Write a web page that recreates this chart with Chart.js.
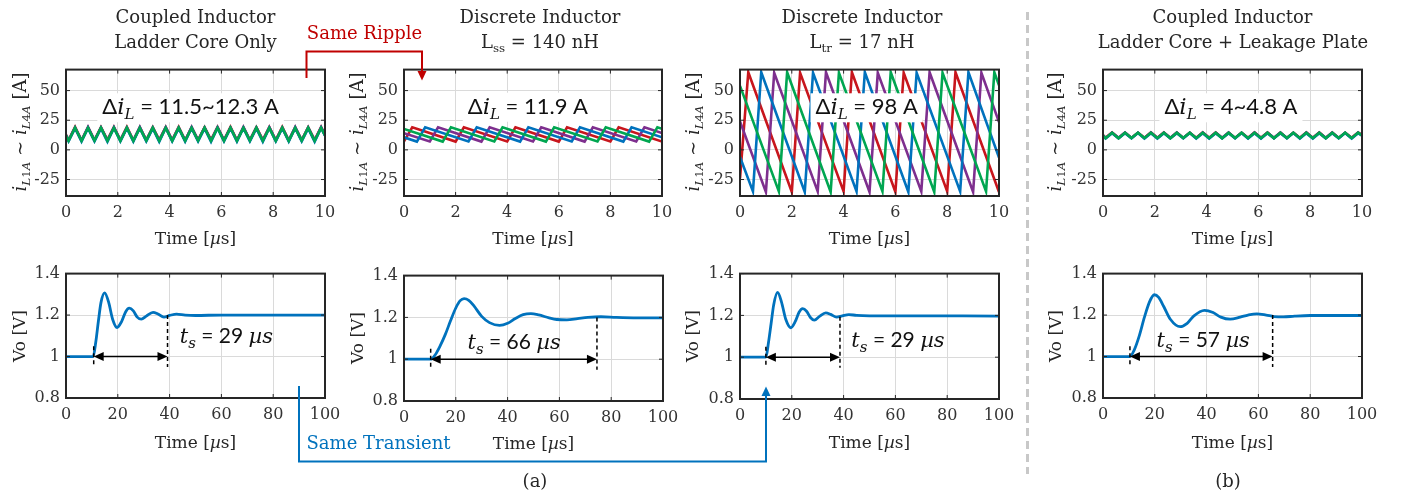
<!DOCTYPE html>
<html><head><meta charset="utf-8">
<script src="https://cdn.jsdelivr.net/npm/chart.js"></script>
<style>
html,body{margin:0;padding:0;background:#fff;width:1403px;height:499px;overflow:hidden;position:relative;font-family:"DejaVu Serif",serif;color:#262626}
canvas{position:absolute}
.t{position:absolute;white-space:nowrap;transform:translate(-50%,-50%);font-size:18px;line-height:1;z-index:5}
.yl{position:absolute;white-space:nowrap;transform:translate(-50%,-50%) rotate(-90deg);font-size:18px;line-height:1;z-index:5}
sub{font-size:0.66em;vertical-align:-0.3em;line-height:0}
svg{position:absolute;left:0;top:0;z-index:4}
</style></head><body>
<script>
// ---------- tick values ----------
const rippleXTicks = [0, 2, 4, 6, 8, 10];
const rippleYTicks = [-25, 0, 25, 50];
const transXTicks = [0, 20, 40, 60, 80, 100];
const transYTicks = [0.8, 1, 1.2, 1.4];

// ---------- Coupled inductor, ladder core only (phase currents, A) ----------
const tCoupled = [0,0.1,0.35,0.6,0.85,1.1,1.35,1.6,1.85,2.1,2.35,2.6,2.85,3.1,3.35,3.6,3.85,4.1,4.35,4.6,4.85,5.1,5.35,5.6,5.85,6.1,6.35,6.6,6.85,7.1,7.35,7.6,7.85,8.1,8.35,8.6,8.85,9.1,9.35,9.6,9.85,10];
const coupledRed    = [12.6, 8.3,19.4, 8.1,18.9, 8.2,19.0, 8.4,19.2, 8.3,19.4, 8.1,18.9, 8.2,19.0, 8.4,19.2, 8.3,19.4, 8.1,18.9, 8.2,19.0, 8.4,19.2, 8.3,19.4, 8.1,18.9, 8.2,19.0, 8.4,19.2, 8.3,19.4, 8.1,18.9, 8.2,19.0, 8.4,19.2, 12.9];
const coupledPurple = [12.4, 8.0,18.8, 7.9,19.3, 8.1,18.9, 7.8,19.1, 8.0,18.8, 7.9,19.3, 8.1,18.9, 7.8,19.1, 8.0,18.8, 7.9,19.3, 8.1,18.9, 7.8,19.1, 8.0,18.8, 7.9,19.3, 8.1,18.9, 7.8,19.1, 8.0,18.8, 7.9,19.3, 8.1,18.9, 7.8,19.1, 12.5];
const coupledBlue   = [11.9, 7.2,18.2, 7.0,18.4, 7.3,18.1, 6.9,18.5, 7.2,18.2, 7.0,18.4, 7.3,18.1, 6.9,18.5, 7.2,18.2, 7.0,18.4, 7.3,18.1, 6.9,18.5, 7.2,18.2, 7.0,18.4, 7.3,18.1, 6.9,18.5, 7.2,18.2, 7.0,18.4, 7.3,18.1, 6.9,18.5, 12.0];
const coupledGreen  = [12.2, 7.7,18.7, 7.6,18.6, 7.8,18.8, 7.6,18.6, 7.7,18.7, 7.6,18.6, 7.8,18.8, 7.6,18.6, 7.7,18.7, 7.6,18.6, 7.8,18.8, 7.6,18.6, 7.7,18.7, 7.6,18.6, 7.8,18.8, 7.6,18.6, 7.7,18.7, 7.6,18.6, 7.8,18.8, 7.6,18.6, 12.3];

// ---------- Coupled inductor, ladder core + leakage plate ----------
const leakRed    = [12.4, 10.2,14.7, 10.0,14.5, 10.1,14.6, 10.3,14.8, 10.2,14.7, 10.0,14.5, 10.1,14.6, 10.3,14.8, 10.2,14.7, 10.0,14.5, 10.1,14.6, 10.3,14.8, 10.2,14.7, 10.0,14.5, 10.1,14.6, 10.3,14.8, 10.2,14.7, 10.0,14.5, 10.1,14.6, 10.3,14.8, 12.5];
const leakPurple = [12.3, 10.0,14.5, 10.2,14.7, 10.1,14.4, 9.9,14.6, 10.0,14.5, 10.2,14.7, 10.1,14.4, 9.9,14.6, 10.0,14.5, 10.2,14.7, 10.1,14.4, 9.9,14.6, 10.0,14.5, 10.2,14.7, 10.1,14.4, 9.9,14.6, 10.0,14.5, 10.2,14.7, 10.1,14.4, 9.9,14.6, 12.3];
const leakBlue   = [11.9, 9.6,14.1, 9.7,14.0, 9.8,14.3, 9.6,14.1, 9.6,14.1, 9.7,14.0, 9.8,14.3, 9.6,14.1, 9.6,14.1, 9.7,14.0, 9.8,14.3, 9.6,14.1, 9.6,14.1, 9.7,14.0, 9.8,14.3, 9.6,14.1, 9.6,14.1, 9.7,14.0, 9.8,14.3, 9.6,14.1, 12.0];
const leakGreen  = [12.2, 9.9,14.4, 9.8,14.5, 10.0,14.4, 9.9,14.5, 9.9,14.4, 9.8,14.5, 10.0,14.4, 9.9,14.5, 9.9,14.4, 9.8,14.5, 10.0,14.4, 9.9,14.5, 9.9,14.4, 9.8,14.5, 10.0,14.4, 9.9,14.5, 9.9,14.4, 9.8,14.5, 10.0,14.4, 9.9,14.5, 12.2];

// ---------- Discrete inductor vertex times per phase (us) ----------
const tPhaseRed    = [0,0.32,2,2.32,4,4.32,6,6.32,8,8.32,10];
const tPhaseBlue   = [0,0.5,0.82,2.5,2.82,4.5,4.82,6.5,6.82,8.5,8.82,10];
const tPhasePurple = [0,1,1.32,3,3.32,5,5.32,7,7.32,9,9.32,10];
const tPhaseGreen  = [0,1.5,1.82,3.5,3.82,5.5,5.82,7.5,7.82,9.5,9.82,10];

// Lss = 140 nH
const ssRed    = [7.1,19.0,7.0,19.1,7.1,19.0,7.0,19.1,7.1,19.0,7.0];
const ssBlue   = [10.6,7.0,19.0,7.1,19.1,7.0,19.0,7.1,19.1,7.0,19.0,10.6];
const ssPurple = [14.1,7.1,19.1,7.0,19.0,7.1,19.1,7.0,19.0,7.1,19.1,14.2];
const ssGreen  = [17.7,7.0,19.0,7.1,19.1,7.0,19.0,7.1,19.1,7.0,19.0,17.7];

// Ltr = 17 nH
const trRed    = [-24,65.5,-35.5,65.0,-35.0,65.5,-35.5,65.0,-35.0,65.5,-35.5];
const trBlue   = [-6,-35.0,65.5,-35.5,65.0,-35.0,65.5,-35.5,65.0,-35.0,65.5,-6.5];
const trPurple = [24,-35.5,65.0,-35.0,65.5,-35.5,65.0,-35.0,65.5,-35.5,65.0,23.5];
const trGreen  = [54,-35.0,65.5,-35.5,65.0,-35.0,65.5,-35.5,65.0,-35.0,65.5,54.5];

// ---------- Output voltage transients (t in us, Vo in V) ----------
const tVoCoupled = [0,10.5,11.5,12.5,13.5,14.9,16.5,18,19.7,21.5,23,24.4,26,27.5,29.1,31,33.6,35.5,37.8,40,42.7,46,50,60,80,100];
const voCoupled  = [1.0,1.0,1.07,1.17,1.26,1.307,1.26,1.18,1.14,1.17,1.215,1.233,1.22,1.19,1.18,1.195,1.213,1.205,1.19,1.198,1.205,1.2,1.198,1.2,1.2,1.2];
const tVoSS = [0,10.3,12,14,16,18,20,21.7,23.2,25,27,30,33,36.9,40,43,46,49,52,56,59,62.9,67,71,76,82,90,100];
const voSS  = [1.0,1.0,1.02,1.065,1.12,1.185,1.245,1.28,1.29,1.282,1.255,1.205,1.175,1.162,1.172,1.195,1.213,1.218,1.212,1.198,1.19,1.188,1.194,1.2,1.203,1.2,1.198,1.198];
const tVoTR = [0,10,11,12,13,14.5,16,17.7,19.6,21.3,22.8,24.2,25.7,27.2,28.7,30.7,33.1,35,37.3,39.5,42,45,50,60,100];
const voTR  = [1.0,1.0,1.07,1.16,1.25,1.31,1.265,1.18,1.141,1.17,1.215,1.232,1.22,1.19,1.177,1.195,1.212,1.205,1.192,1.198,1.204,1.2,1.198,1.198,1.197];
const tVoLeak = [0,10.4,12,14,16,18,19.8,21.5,23.5,26,29.8,32.5,35,39.2,42.5,45.5,49.1,53,56,59.4,63,66,69.7,74,80,100];
const voLeak  = [1.0,1.0,1.03,1.1,1.19,1.265,1.298,1.285,1.24,1.18,1.144,1.16,1.195,1.223,1.212,1.19,1.18,1.19,1.2,1.206,1.2,1.193,1.191,1.195,1.198,1.198];

// settling-time markers [start, end] (us) and labels
const settleCoupled = [10.7, 39.2], settleSS = [10.3, 74.5], settleTR = [10.0, 38.6], settleLeak = [10.4, 65.5];
const settleLabels = ['29', '66', '29', '57'];
const rippleLabels = ['11.5~12.3 A', '11.9 A', '98 A', '4~4.8 A'];

// ---------- colours ----------
const RED = '#C8161D', PURPLE = '#7E2F8E', BLUE = '#0072BD', GREEN = '#00A651', VBLUE = '#0072BD';

function pts(t, v) { return t.map((tt, i) => ({x: tt, y: v[i]})); }
function phaseSets(r, p, b, g) {
  return [
    {data: g, borderColor: GREEN}, {data: b, borderColor: BLUE},
    {data: p, borderColor: PURPLE}, {data: r, borderColor: RED}
  ].map(d => Object.assign(d, {borderWidth: 2.6, tension: 0, pointRadius: 0, fill: false}));
}

function drawRich(ctx, parts, x, y, align, bg) {
  let w = 0;
  parts.forEach(p => { ctx.font = p[1]; p.w = ctx.measureText(p[0]).width; w += p.w; });
  let cx = align === 'center' ? x - w / 2 : x;
  if (bg) { ctx.fillStyle = '#fff'; ctx.fillRect(cx - 5, y - 21, w + 10, 29); }
  ctx.fillStyle = '#111'; ctx.textAlign = 'left'; ctx.textBaseline = 'alphabetic';
  parts.forEach(p => { ctx.font = p[1]; ctx.fillText(p[0], cx, y + (p[2] || 0)); cx += p.w; });
}

const decorPlugin = {
  id: 'decor',
  afterDatasetsDraw(chart, args, opts) {
    const {ctx, chartArea: a} = chart;
    const xs = chart.scales.x, ys = chart.scales.y;
    const line = (x1, y1, x2, y2) => { ctx.beginPath(); ctx.moveTo(x1, y1); ctx.lineTo(x2, y2); ctx.stroke(); };
    ctx.save();
    ctx.strokeStyle = '#262626'; ctx.lineWidth = 1;
    xs.ticks.forEach(t => { const px = xs.getPixelForValue(t.value); line(px, a.bottom, px, a.bottom - 4); line(px, a.top, px, a.top + 4); });
    ys.ticks.forEach(t => { const py = ys.getPixelForValue(t.value); line(a.left, py, a.left + 4, py); line(a.right, py, a.right - 4, py); });
    ctx.lineWidth = 2;
    ctx.strokeRect(a.left, a.top, a.right - a.left, a.bottom - a.top);
    if (opts.ripple) {
      const r = opts.ripple;
      drawRich(ctx, [['Δ', '22px Lato, "Noto Sans"'], ['i', 'italic 23px "DejaVu Serif"'], ['L', 'italic 15px "DejaVu Serif"', 5], [' = ' + r.text, '22px Lato, "Noto Sans"']],
        xs.getPixelForValue(r.t), ys.getPixelForValue(r.v), 'center', true);
    }
    if (opts.settle) {
      const s = opts.settle;
      const x0 = xs.getPixelForValue(s.t0), x1 = xs.getPixelForValue(s.t1);
      ctx.strokeStyle = '#000'; ctx.fillStyle = '#000'; ctx.lineWidth = 1.5;
      ctx.setLineDash([4, 3]);
      line(x0, ys.getPixelForValue(1.05), x0, ys.getPixelForValue(0.95));
      line(x1, ys.getPixelForValue(s.top1), x1, ys.getPixelForValue(0.95));
      ctx.setLineDash([]);
      const ya = ys.getPixelForValue(1.0);
      line(x0 + 6, ya, x1 - 6, ya);
      ctx.beginPath(); ctx.moveTo(x0, ya); ctx.lineTo(x0 + 10, ya - 4.5); ctx.lineTo(x0 + 10, ya + 4.5); ctx.closePath(); ctx.fill();
      ctx.beginPath(); ctx.moveTo(x1, ya); ctx.lineTo(x1 - 10, ya - 4.5); ctx.lineTo(x1 - 10, ya + 4.5); ctx.closePath(); ctx.fill();
      drawRich(ctx, [['t', 'italic 21px "DejaVu Serif"'], ['s', 'italic 15px "DejaVu Serif"', 5], [' = ' + s.text + ' ', '21px Lato, "Noto Sans"'], ['µs', 'italic 21px "DejaVu Serif"']],
        xs.getPixelForValue(s.lx), ys.getPixelForValue(s.ly), s.align, false);
    }
    ctx.restore();
  }
};

function makeChart(rect, datasets, ax, decor) {
  const [L, T, R, B] = rect;
  const padL = 60, padT = 14, padR = 26, padB = 32;
  const c = document.createElement('canvas');
  const W = (R - L) + padL + padR, H = (B - T) + padT + padB;
  c.width = W; c.height = H;
  c.style.left = (L - padL) + 'px'; c.style.top = (T - padT) + 'px';
  c.style.width = W + 'px'; c.style.height = H + 'px';
  document.body.appendChild(c);
  const tickFont = {family: 'DejaVu Serif', size: 16};
  new Chart(c, {
    type: 'line',
    data: {datasets},
    options: {
      responsive: false, animation: false, devicePixelRatio: 1,
      layout: {padding: {left: 0, top: padT, right: padR, bottom: 0}},
      plugins: {legend: {display: false}, tooltip: {enabled: false}, decor},
      scales: {
        x: {type: 'linear', min: ax.xmin, max: ax.xmax,
            afterBuildTicks: s => { s.ticks = ax.xt.map(v => ({value: v})); },
            afterFit: s => { s.height = padB; },
            grid: {color: '#dadada', lineWidth: 1, drawTicks: false},
            border: {display: false},
            ticks: {font: tickFont, color: '#333', padding: 7, maxRotation: 0, autoSkip: false, callback: v => String(v)}},
        y: {type: 'linear', min: ax.ymin, max: ax.ymax,
            afterBuildTicks: s => { s.ticks = ax.yt.map(v => ({value: v})); },
            afterFit: s => { s.width = padL; },
            grid: {color: '#dadada', lineWidth: 1, drawTicks: false},
            border: {display: false},
            ticks: {font: tickFont, color: '#333', padding: 6, autoSkip: false, callback: v => String(v)}}
      }
    },
    plugins: [decorPlugin]
  });
}

const topAx = {xmin: 0, xmax: 10, xt: rippleXTicks, ymin: -38.9, ymax: 67.7, yt: rippleYTicks};
const botAx = {xmin: 0, xmax: 100, xt: transXTicks, ymin: 0.8, ymax: 1.4, yt: transYTicks};

makeChart([66, 68, 325, 196], phaseSets(pts(tCoupled, coupledRed), pts(tCoupled, coupledPurple), pts(tCoupled, coupledBlue), pts(tCoupled, coupledGreen)), topAx,
  {ripple: {t: 4.81, v: 30, text: rippleLabels[0]}});
makeChart([404, 68, 662, 196], phaseSets(pts(tPhaseRed, ssRed), pts(tPhasePurple, ssPurple), pts(tPhaseBlue, ssBlue), pts(tPhaseGreen, ssGreen)), topAx,
  {ripple: {t: 4.8, v: 30.5, text: rippleLabels[1]}});
makeChart([740, 68, 999, 196], phaseSets(pts(tPhaseRed, trRed), pts(tPhasePurple, trPurple), pts(tPhaseBlue, trBlue), pts(tPhaseGreen, trGreen)), topAx,
  {ripple: {t: 4.89, v: 30, text: rippleLabels[2]}});
makeChart([1103, 68, 1362, 196], phaseSets(pts(tCoupled, leakRed), pts(tCoupled, leakPurple), pts(tCoupled, leakBlue), pts(tCoupled, leakGreen)), topAx,
  {ripple: {t: 4.94, v: 30, text: rippleLabels[3]}});

function voSet(t, v) { return [{data: pts(t, v), borderColor: VBLUE, borderWidth: 2.8, cubicInterpolationMode: 'monotone', pointRadius: 0, fill: false}]; }
makeChart([66, 272, 325, 398], voSet(tVoCoupled, voCoupled), botAx,
  {settle: {t0: settleCoupled[0], t1: settleCoupled[1], top1: 1.2, text: settleLabels[0], lx: 43.9, ly: 1.064, align: 'left'}});
makeChart([404, 274, 663, 401], voSet(tVoSS, voSS), botAx,
  {settle: {t0: settleSS[0], t1: settleSS[1], top1: 1.2, text: settleLabels[1], lx: 42.5, ly: 1.048, align: 'center'}});
makeChart([740, 272, 999, 399], voSet(tVoTR, voTR), botAx,
  {settle: {t0: settleTR[0], t1: settleTR[1], top1: 1.193, text: settleLabels[2], lx: 43, ly: 1.047, align: 'left'}});
makeChart([1103, 272, 1362, 398], voSet(tVoLeak, voLeak), botAx,
  {settle: {t0: settleLeak[0], t1: settleLeak[1], top1: 1.2, text: settleLabels[3], lx: 38.7, ly: 1.048, align: 'center'}});

// ---------- text ----------
const iLabel = '<i>i</i><sub><i>L</i>1<i>A</i></sub> ∼ <i>i</i><sub><i>L</i>4<i>A</i></sub> [A]';
const textItems = [
  ['t', 195.5, 17, 'Coupled Inductor'], ['t', 195.5, 42, 'Ladder Core Only'],
  ['t', 540, 17, 'Discrete Inductor'], ['t', 540, 42, 'L<sub>ss</sub> = 140 nH'],
  ['t', 862, 17, 'Discrete Inductor'], ['t', 862, 42, 'L<sub>tr</sub> = 17 nH'],
  ['t', 1232.5, 17, 'Coupled Inductor'], ['t', 1233, 42, 'Ladder Core + Leakage Plate'],
  ['yl', 20, 132, iLabel], ['yl', 357, 132, iLabel], ['yl', 693, 132, iLabel], ['yl', 1055, 132, iLabel],
  ['yl', 19, 336, 'Vo [V]'], ['yl', 357, 338, 'Vo [V]'], ['yl', 692, 336, 'Vo [V]'], ['yl', 1055, 336, 'Vo [V]'],
  ['t', 195.5, 238, 'Time [<i>µ</i>s]'], ['t', 533, 238, 'Time [<i>µ</i>s]'], ['t', 869.5, 238, 'Time [<i>µ</i>s]'], ['t', 1232.5, 238, 'Time [<i>µ</i>s]'],
  ['t', 195.5, 442, 'Time [<i>µ</i>s]'], ['t', 533.5, 443, 'Time [<i>µ</i>s]'], ['t', 869.5, 442, 'Time [<i>µ</i>s]'], ['t', 1232.5, 442, 'Time [<i>µ</i>s]'],
  ['t', 535, 481, '(a)'], ['t', 1228, 481, '(b)']
];
textItems.forEach(([cls, x, y, html]) => {
  const d = document.createElement('div');
  d.className = cls; d.style.left = x + 'px'; d.style.top = y + 'px'; d.innerHTML = html;
  if (cls === 't' && html.startsWith('Time')) d.style.fontSize = '17px';
  if (html.startsWith('Vo')) d.style.fontSize = '17px';
  document.body.appendChild(d);
});
const red = document.createElement('div'); red.className = 't'; red.style.left = '364.5px'; red.style.top = '33px'; red.style.color = '#C00000'; red.textContent = 'Same Ripple'; document.body.appendChild(red);
const blu = document.createElement('div'); blu.className = 't'; blu.style.left = '378.5px'; blu.style.top = '443px'; blu.style.color = '#0072BD'; blu.textContent = 'Same Transient'; document.body.appendChild(blu);

// ---------- connectors and separator ----------
document.body.insertAdjacentHTML('beforeend',
 '<svg width="1403" height="499" xmlns="http://www.w3.org/2000/svg">' +
 '<polyline points="306.5,78 306.5,51.5 422,51.5 422,72" fill="none" stroke="#C00000" stroke-width="2"/>' +
 '<polygon points="422,80.5 417.5,71 426.5,71" fill="#C00000"/>' +
 '<polyline points="299,386 299,461.5 766,461.5 766,396" fill="none" stroke="#0072BD" stroke-width="2"/>' +
 '<polygon points="766,386.5 761.5,396 770.5,396" fill="#0072BD"/>' +
 '<line x1="1027.5" y1="12" x2="1027.5" y2="474" stroke="#c8c8c8" stroke-width="3" stroke-dasharray="8,5"/>' +
 '</svg>');
</script>
</body></html>
